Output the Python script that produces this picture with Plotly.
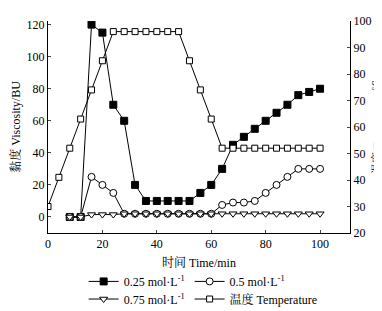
import plotly.graph_objects as go

# ---- data ----
time_visc = [8, 12, 16, 20, 24, 28, 32, 36, 40, 44, 48, 52, 56, 60, 64, 68, 72, 76, 80, 84, 88, 92, 96, 100]
visc_025 = [0, 0, 120, 115, 70, 60, 20, 10, 10, 10, 10, 10, 15, 20, 30, 45, 50, 55, 60, 65, 70, 76, 78, 80]
visc_05 = [0, 0, 25, 20, 15, 2, 2, 2, 2, 2, 2, 2, 2, 2, 7.5, 9, 9, 10, 15, 20, 25, 30, 30, 30]
visc_075 = [0, 0, 1.5, 1.5, 1.5, 2, 2, 2, 2, 2, 2, 2, 2, 2, 2, 2, 2, 2, 2, 2, 2, 2, 2, 2]
time_temp = [0, 4, 8, 12, 16, 20, 24, 28, 32, 36, 40, 44, 48, 52, 56, 60, 64, 68, 72, 76, 80, 84, 88, 92, 96, 100]
temperature = [30, 41, 52, 63, 74, 85, 96, 96, 96, 96, 96, 96, 96, 85, 74, 63, 52, 52, 52, 52, 52, 52, 52, 52, 52, 52]

x_ticks = [0, 20, 40, 60, 80, 100]
y_ticks = [0, 20, 40, 60, 80, 100, 120]
y2_ticks = [20, 30, 40, 50, 60, 70, 80, 90, 100]

names = ["0.25 mol·L<sup>-1</sup>", "0.5 mol·L<sup>-1</sup>", "0.75 mol·L<sup>-1</sup>", "温度 Temperature"]

FONT = "Liberation Serif, Times New Roman, Noto Serif CJK SC, Noto Sans CJK SC, serif"

fig = go.Figure()

line = dict(color="black", width=1)

fig.add_trace(go.Scatter(x=time_visc, y=visc_025, name=names[0], mode="lines+markers",
                         legend="legend",
                         line=line, marker=dict(symbol="square", size=7, color="black",
                                                line=dict(color="black", width=1))))
fig.add_trace(go.Scatter(x=time_visc, y=visc_05, name=names[1], mode="lines+markers",
                         legend="legend",
                         line=line, marker=dict(symbol="circle", size=7, color="white",
                                                line=dict(color="black", width=1))))
fig.add_trace(go.Scatter(x=time_visc, y=visc_075, name=names[2], mode="lines+markers",
                         legend="legend2",
                         line=line, marker=dict(symbol="triangle-down", size=7, color="white",
                                                line=dict(color="black", width=1))))
fig.add_trace(go.Scatter(x=time_temp, y=temperature, name=names[3], mode="lines+markers",
                         yaxis="y2", legend="legend2",
                         line=line, marker=dict(symbol="square", size=6, color="white",
                                                line=dict(color="black", width=1))))

leg_common = dict(orientation="h", xanchor="left", yanchor="top",
                  font=dict(size=12, family=FONT), bgcolor="rgba(0,0,0,0)",
                  itemwidth=30, traceorder="normal")

fig.update_layout(
    width=382, height=311,
    margin=dict(l=40, r=40, t=6, b=70),
    paper_bgcolor="white", plot_bgcolor="white",
    font=dict(family=FONT, size=12, color="black"),
    showlegend=True,
    legend=dict(x=0.118, y=-0.16, **leg_common),
    legend2=dict(x=0.118, y=-0.243, **leg_common),
    xaxis=dict(range=[0, 111], tickvals=x_ticks, ticks="inside", ticklen=3,
               showline=True, linecolor="black", linewidth=1, showgrid=False, zeroline=False,
               title=dict(text="时间 Time/min", font=dict(size=12), standoff=8),
               tickfont=dict(size=12)),
    yaxis=dict(range=[-10, 122.25], tickvals=y_ticks, ticks="inside", ticklen=3,
               showline=True, linecolor="black", linewidth=1, showgrid=False, zeroline=False,
               title=dict(text="黏度 Viscosity/BU", font=dict(size=12), standoff=4),
               tickfont=dict(size=12)),
    yaxis2=dict(range=[20, 100], tickvals=y2_ticks, ticks="inside", ticklen=3,
                overlaying="y", side="right",
                showline=True, linecolor="black", linewidth=1, showgrid=False, zeroline=False,
                tickfont=dict(size=12)),
    annotations=[dict(text="温度 Temperature/℃", xref="paper", yref="paper",
                      x=(368 - 40) / 302, y=0.5, textangle=-90, showarrow=False,
                      xanchor="center", yanchor="middle", font=dict(size=11, family=FONT))],
)

fig.write_html("out.html")
